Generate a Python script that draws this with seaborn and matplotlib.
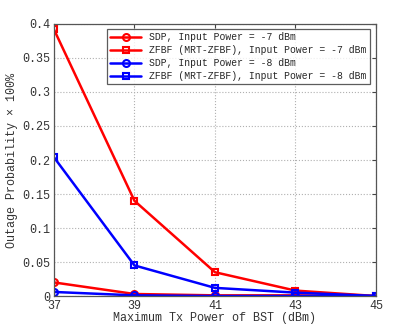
import matplotlib
matplotlib.use("Agg")
import matplotlib.pyplot as plt
import seaborn as sns
import pandas as pd

x_power = [37, 39, 41, 43, 45]
sdp_7 = [0.020, 0.003, 0.001, 0.001, 0.0]
zfbf_7 = [0.392, 0.140, 0.035, 0.008, 0.0]
sdp_8 = [0.006, 0.001, 0.0, 0.0, 0.0]
zfbf_8 = [0.204, 0.045, 0.012, 0.005, 0.0]

labels = ["SDP, Input Power = -7 dBm",
          "ZFBF (MRT-ZFBF), Input Power = -7 dBm",
          "SDP, Input Power = -8 dBm",
          "ZFBF (MRT-ZFBF), Input Power = -8 dBm"]
colors = ["red", "red", "blue", "blue"]
markers = ["o", "s", "o", "s"]

df = pd.DataFrame({
    "x": x_power * 4,
    "y": sdp_7 + zfbf_7 + sdp_8 + zfbf_8,
    "series": [l for l in labels for _ in x_power],
})

sns.set_style("white")
plt.rcParams['font.family'] = ['Liberation Mono', 'DejaVu Sans Mono']
plt.rcParams['font.size'] = 8.5

fig = plt.figure(figsize=(4.15, 3.33), dpi=100)
ax = fig.add_axes([0.130, 0.111, 0.776, 0.817])

for lab, c, m in zip(labels, colors, markers):
    sub = df[df["series"] == lab]
    sns.lineplot(data=sub, x="x", y="y", ax=ax, color=c, marker=m, label=lab,
                 linewidth=1.8, markersize=5, markerfacecolor="none",
                 markeredgecolor=c, markeredgewidth=1.5)

ax.set_xlim(37, 45)
ax.set_ylim(0, 0.4)
ax.set_xticks(x_power)
ax.set_yticks([0, 0.05, 0.1, 0.15, 0.2, 0.25, 0.3, 0.35, 0.4])
ax.set_yticklabels(["0", "0.05", "0.1", "0.15", "0.2", "0.25", "0.3", "0.35", "0.4"])
ax.grid(True, linestyle=":", color="#b0b0b0", linewidth=0.8)
ax.tick_params(direction="in", top=True, right=True, length=3, color="#444444",
               labelsize=8.5, labelcolor="#333333", pad=3)
for s in ax.spines.values():
    s.set_color("#555555")
    s.set_linewidth(0.9)
ax.set_xlabel("Maximum Tx Power of BST (dBm)", fontsize=8.5, color="#333333", labelpad=0)
ax.set_ylabel("Outage Probability × 100%", fontsize=8.5, color="#333333", labelpad=3)

leg = ax.legend(loc="upper right", bbox_to_anchor=(0.981, 0.982), borderaxespad=0,
                fontsize=7, frameon=True, fancybox=False, edgecolor="#333333",
                handlelength=3.2, borderpad=0.35, labelspacing=0.3)
leg.get_frame().set_linewidth(0.9)

fig.savefig("out.png", dpi=100)
